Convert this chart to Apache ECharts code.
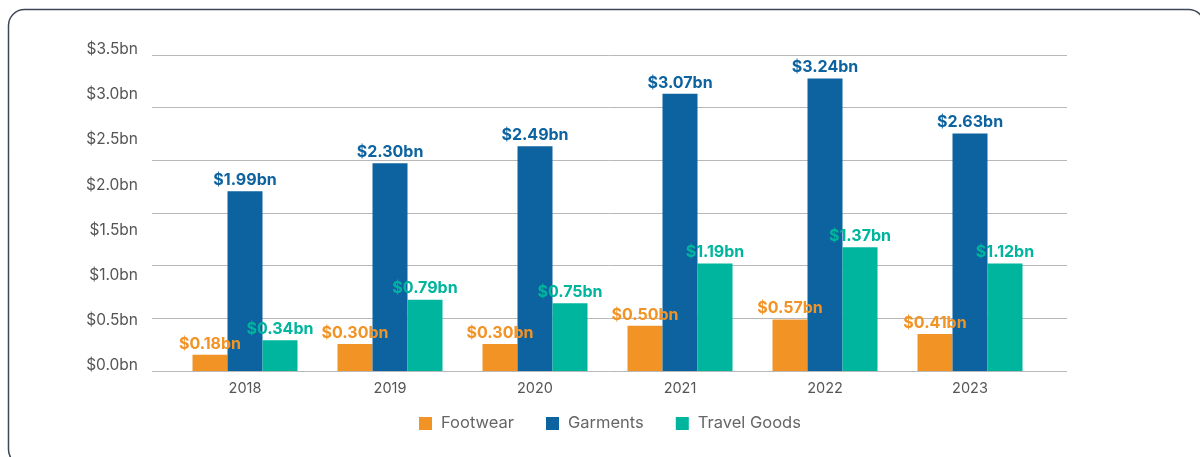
<!DOCTYPE html>
<html>
<head>
<meta charset="utf-8">
<script src="https://cdn.jsdelivr.net/npm/echarts@6/dist/echarts.min.js"></script>
<style>
  html, body { margin: 0; padding: 0; background: #fff; }
  #chart { width: 1200px; height: 457px; }
</style>
</head>
<body>
<div id="chart"></div>
<script>
var years = ['2018', '2019', '2020', '2021', '2022', '2023'];
var seriesNames = ['Footwear', 'Garments', 'Travel Goods'];
var colors = ['#f29325', '#0d63a0', '#00b59d'];

// bar heights as drawn
var footwear = [0.18, 0.30, 0.30, 0.50, 0.57, 0.41];
var garments = [1.99, 2.30, 2.49, 3.07, 3.24, 2.63];
var travelGoods = [0.34, 0.79, 0.75, 1.19, 1.37, 1.19];

// printed value labels
var footwearLabels = ['0.18', '0.30', '0.30', '0.50', '0.57', '0.41'];
var garmentsLabels = ['1.99', '2.30', '2.49', '3.07', '3.24', '2.63'];
var travelGoodsLabels = ['0.34', '0.79', '0.75', '1.19', '1.37', '1.12'];

var yTicks = ['0.0', '0.5', '1.0', '1.5', '2.0', '2.5', '3.0', '3.5'];

var font = 'Inter, "Noto Sans", sans-serif';

function makeSeries(name, data, labels, color) {
  return {
    name: name,
    type: 'bar',
    xAxisIndex: 1,
    yAxisIndex: 2,
    barWidth: 35,
    barGap: '0%',
    itemStyle: { color: color },
    label: {
      show: true,
      position: 'top',
      distance: 3,
      color: color,
      fontFamily: font,
      fontWeight: 'bold',
      fontSize: 16,
      formatter: function (p) { return '$' + labels[p.dataIndex] + 'bn'; }
    },
    data: data
  };
}

var myChart = echarts.init(document.getElementById('chart'));
var option = {
  animation: false,
  graphic: [{
    type: 'rect',
    shape: { x: 8.5, y: 9.5, width: 1196, height: 456, r: 16 },
    style: { fill: 'none', stroke: '#3e4757', lineWidth: 1.5 },
    silent: true
  }],
  legend: {
    left: 414,
    top: 410,
    icon: 'rect',
    itemWidth: 13,
    itemHeight: 13,
    itemGap: 32,
    textStyle: { color: '#666', fontSize: 16.5, fontFamily: font, padding: [0, 0, 0, 4] },
    data: seriesNames
  },
  grid: [
    { left: 152, right: 133, top: 55, height: 316 },
    { left: 172.5, right: 157.5, top: 55, height: 316 }
  ],
  xAxis: [
    { gridIndex: 0, type: 'value', min: 0, max: 1, show: false },
    {
      gridIndex: 1,
      type: 'category',
      data: years,
      axisLine: { show: false },
      axisTick: { show: false },
      axisLabel: { color: '#555', fontSize: 14.5, fontFamily: font, margin: 10 }
    }
  ],
  yAxis: [
    {
      // gridlines
      gridIndex: 0,
      type: 'value',
      min: 0,
      max: 3.5,
      interval: 3.5 / 6,
      axisLine: { show: false },
      axisTick: { show: false },
      axisLabel: { show: false },
      splitLine: { lineStyle: { color: '#b8b8b8', width: 1 } }
    },
    {
      // tick labels
      gridIndex: 0,
      type: 'value',
      position: 'left',
      min: 0,
      max: 3.5,
      interval: 0.5,
      axisLine: { show: false },
      axisTick: { show: false },
      splitLine: { show: false },
      axisLabel: {
        margin: 14,
        color: '#555',
        fontSize: 15.5,
        fontFamily: font,
        verticalAlign: 'bottom',
        lineHeight: 11,
        formatter: function (v, i) { return '$' + yTicks[i] + 'bn'; }
      }
    },
    { gridIndex: 1, type: 'value', min: 0, max: 3.5, show: false }
  ],
  series: [
    makeSeries(seriesNames[0], footwear, footwearLabels, colors[0]),
    makeSeries(seriesNames[1], garments, garmentsLabels, colors[1]),
    makeSeries(seriesNames[2], travelGoods, travelGoodsLabels, colors[2])
  ]
};
myChart.setOption(option);
</script>
</body>
</html>
